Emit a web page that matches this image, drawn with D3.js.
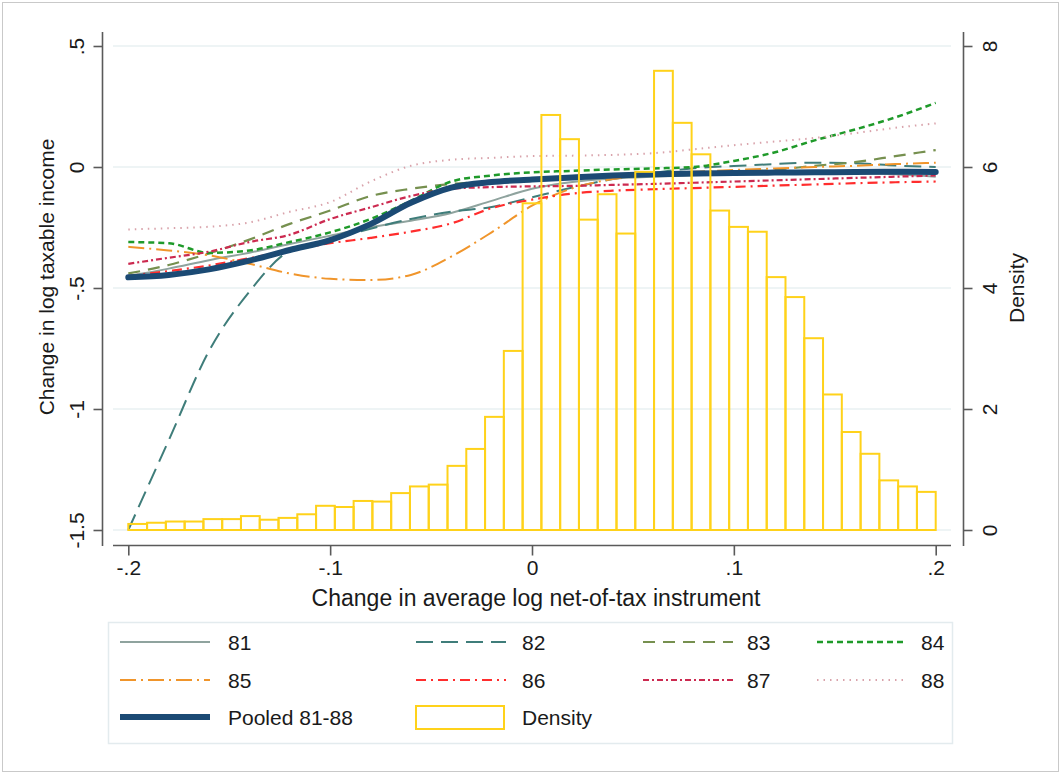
<!DOCTYPE html>
<html>
<head>
<meta charset="utf-8">
<script src="https://cdn.jsdelivr.net/npm/d3@7"></script>
<style>
  body { margin: 0; background: #fff; }
  text { font-family: "Liberation Sans", Arial, sans-serif; fill: #1a1a1a; }
</style>
</head>
<body>
<div id="chart"></div>
<script>
// sample points along the x axis (change in avg log net-of-tax instrument)
const xs = [-0.2, -0.18, -0.16, -0.14, -0.12, -0.1, -0.08, -0.06, -0.04, -0.02, 0,
            0.02, 0.04, 0.06, 0.08, 0.1, 0.12, 0.14, 0.16, 0.18, 0.2];

const y81 = [-0.45, -0.42, -0.385, -0.354, -0.318, -0.284, -0.249, -0.222, -0.19, -0.14, -0.09,
             -0.062, -0.048, -0.04, -0.034, -0.03, -0.027, -0.025, -0.025, -0.03, -0.04];
const y82 = [-1.5, -1.13, -0.76, -0.515, -0.345, -0.3, -0.255, -0.215, -0.185, -0.165, -0.125,
             -0.085, -0.05, -0.025, -0.005, 0.004, 0.012, 0.018, 0.016, 0.006, 0.0];
const y83 = [-0.44, -0.405, -0.357, -0.3, -0.235, -0.18, -0.12, -0.09, -0.07, -0.06, -0.052,
             -0.045, -0.04, -0.035, -0.03, -0.022, -0.012, 0.005, 0.02, 0.045, 0.07];
const y84 = [-0.31, -0.315, -0.355, -0.345, -0.31, -0.27, -0.215, -0.14, -0.06, -0.035, -0.022,
             -0.016, -0.01, -0.006, 0.0, 0.025, 0.06, 0.11, 0.155, 0.205, 0.265];
const y85 = [-0.33, -0.345, -0.365, -0.4, -0.44, -0.462, -0.467, -0.446, -0.37, -0.27, -0.16,
             -0.088, -0.05, -0.03, -0.02, -0.012, -0.006, 0.0, 0.005, 0.012, 0.018];
const y86 = [-0.45, -0.43, -0.407, -0.377, -0.345, -0.315, -0.293, -0.267, -0.233, -0.17, -0.135,
             -0.11, -0.098, -0.092, -0.087, -0.082, -0.077, -0.072, -0.067, -0.063, -0.06];
const y87 = [-0.4, -0.375, -0.35, -0.31, -0.28, -0.215, -0.167, -0.12, -0.09, -0.083, -0.08,
             -0.078, -0.074, -0.07, -0.065, -0.06, -0.055, -0.05, -0.045, -0.04, -0.035];
const y88 = [-0.258, -0.253, -0.247, -0.229, -0.185, -0.145, -0.06, 0.005, 0.03, 0.038, 0.045,
             0.047, 0.05, 0.057, 0.073, 0.09, 0.105, 0.12, 0.14, 0.162, 0.18];
const yPooled = [-0.456, -0.446, -0.423, -0.387, -0.343, -0.302, -0.236, -0.148, -0.085, -0.062, -0.052,
                 -0.043, -0.035, -0.03, -0.027, -0.025, -0.023, -0.022, -0.021, -0.02, -0.021];

// histogram of the instrument, 43 equal bins over [-.2, .2]
const binLo = -0.2, binHi = 0.2;
const density = [0.10, 0.12, 0.14, 0.14, 0.18, 0.18, 0.23, 0.17, 0.20, 0.26,
                 0.40, 0.38, 0.48, 0.47, 0.61, 0.72, 0.75, 1.06, 1.34, 1.87,
                 2.96, 5.40, 6.86, 6.46, 5.13, 5.55, 4.90, 5.92, 7.59, 6.73,
                 6.21, 5.28, 5.01, 4.93, 4.18, 3.85, 3.17, 2.24, 1.62, 1.26,
                 0.82, 0.72, 0.63];

const xTicks = [-0.2, -0.1, 0, 0.1, 0.2];
const yTicks = [0.5, 0, -0.5, -1, -1.5];
const dTicks = [0, 2, 4, 6, 8];

const series = [
  {name: "81", ys: y81, color: "#8fa39e", w: 2, dash: null},
  {name: "82", ys: y82, color: "#3f7d7a", w: 2, dash: "17,8"},
  {name: "83", ys: y83, color: "#76904f", w: 2.2, dash: "12,8"},
  {name: "84", ys: y84, color: "#1f9a2a", w: 2.5, dash: "6,4"},
  {name: "85", ys: y85, color: "#f0952b", w: 2, dash: "16,5,2,5"},
  {name: "86", ys: y86, color: "#ff2d2d", w: 2.2, dash: "10,5,2,5"},
  {name: "87", ys: y87, color: "#cc2a50", w: 2.2, dash: "6,3,2,3"},
  {name: "88", ys: y88, color: "#d9a3ab", w: 2, dash: "1.5,5"},
  {name: "Pooled 81-88", ys: yPooled, color: "#1b4a74", w: 6, dash: null}
];

const width = 1061, height = 774;
const fmt = d => d === 0 ? "0" : String(d).replace("0.", ".");

const x = d3.scaleLinear().domain([-0.2, 0.2]).range([128.3, 935.7]);
const y = d3.scaleLinear().domain([-1.5, 0.5]).range([530, 46]);
const yd = d3.scaleLinear().domain([0, 8]).range([530, 46]);

const svg = d3.select("#chart").append("svg")
    .attr("width", width).attr("height", height);

svg.append("rect")
    .attr("x", 2.5).attr("y", 2.5).attr("width", width - 5).attr("height", height - 5)
    .attr("fill", "#fff").attr("stroke", "#c9c9c9");

// gridlines
svg.append("g").selectAll("line").data(yTicks).join("line")
    .attr("x1", 113).attr("x2", 951)
    .attr("y1", d => y(d)).attr("y2", d => y(d))
    .attr("stroke", "#e8f0f2").attr("stroke-width", 1.5);

// lines
const line = d3.line().x((d, i) => x(xs[i])).y(d => y(d)).curve(d3.curveMonotoneX);
svg.append("g").selectAll("path").data(series).join("path")
    .attr("d", d => line(d.ys))
    .attr("fill", "none")
    .attr("stroke", d => d.color)
    .attr("stroke-width", d => d.w)
    .attr("stroke-dasharray", d => d.dash)
    .attr("stroke-linecap", d => d.name === "Pooled 81-88" ? "round" : "butt");

// histogram bars (outline only)
const bw = (binHi - binLo) / density.length;
svg.append("g").selectAll("rect").data(density).join("rect")
    .attr("x", (d, i) => x(binLo + i * bw))
    .attr("width", x(binLo + bw) - x(binLo))
    .attr("y", d => yd(d))
    .attr("height", d => yd(0) - yd(d))
    .attr("fill", "none")
    .attr("stroke", "#ffd21a")
    .attr("stroke-width", 2);

// axes
const axisColor = "#5a5a5a";
const xAxis = svg.append("g").attr("transform", "translate(0,545.5)");
xAxis.call(d3.axisBottom(x).tickValues(xTicks).tickFormat(fmt).tickSize(10).tickPadding(5));
xAxis.select(".domain").attr("d", "M113,0H951");

const yAxis = svg.append("g").attr("transform", "translate(102.5,0)");
yAxis.call(d3.axisLeft(y).tickValues(yTicks).tickFormat(fmt).tickSize(9));
yAxis.select(".domain").attr("d", "M0,32V546");
yAxis.selectAll(".tick text")
    .attr("transform", "rotate(-90)").attr("x", 0).attr("y", -26)
    .attr("dy", "0.35em").attr("text-anchor", "middle");

const dAxis = svg.append("g").attr("transform", "translate(963.5,0)");
dAxis.call(d3.axisRight(yd).tickValues(dTicks).tickSize(9));
dAxis.select(".domain").attr("d", "M0,32V546");
dAxis.selectAll(".tick text")
    .attr("transform", "rotate(-90)").attr("x", 0).attr("y", 26)
    .attr("dy", "0.35em").attr("text-anchor", "middle");

svg.selectAll(".domain, .tick line").attr("stroke", axisColor).attr("stroke-width", 1.6);
svg.selectAll(".tick text").attr("font-size", 21).attr("fill", "#1a1a1a")
    .style("font-family", "'Liberation Sans', Arial, sans-serif");

// axis titles
svg.append("text").attr("x", 536).attr("y", 606).attr("text-anchor", "middle")
    .attr("font-size", 23).text("Change in average log net-of-tax instrument");
svg.append("text").attr("transform", "translate(47,277) rotate(-90)")
    .attr("dy", "0.35em").attr("text-anchor", "middle")
    .attr("font-size", 21).text("Change in log taxable income");
svg.append("text").attr("transform", "translate(1017,288) rotate(-90)")
    .attr("dy", "0.35em").attr("text-anchor", "middle")
    .attr("font-size", 21).text("Density");

// legend
const lg = svg.append("g");
lg.append("rect").attr("x", 108.5).attr("y", 622.5).attr("width", 844).attr("height", 121)
    .attr("fill", "#fff").attr("stroke", "#e3ebee").attr("stroke-width", 1.5);
const colX = [120, 416, 643, 817];
const rowY = [642, 680, 717];
const items = series.map((s, i) => ({...s, col: i < 8 ? i % 4 : 0, row: i < 8 ? Math.floor(i / 4) : 2}));
items.push({name: "Density", col: 1, row: 2, hist: true});
const li = lg.selectAll("g").data(items).join("g")
    .attr("transform", d => `translate(${colX[d.col]},${rowY[d.row]})`);
li.filter(d => !d.hist).append("line")
    .attr("x1", 0).attr("x2", 90)
    .attr("stroke", d => d.color).attr("stroke-width", d => d.w)
    .attr("stroke-dasharray", d => d.dash);
li.filter(d => d.hist).append("rect")
    .attr("x", 0).attr("y", -11).attr("width", 88).attr("height", 23)
    .attr("fill", "#fff").attr("stroke", "#ffd21a").attr("stroke-width", 2);
li.append("text").attr("x", d => d.col === 0 ? 108 : (d.col === 1 ? 106 : 104)).attr("dy", "0.36em")
    .attr("font-size", 21).text(d => d.name);
</script>
</body>
</html>
